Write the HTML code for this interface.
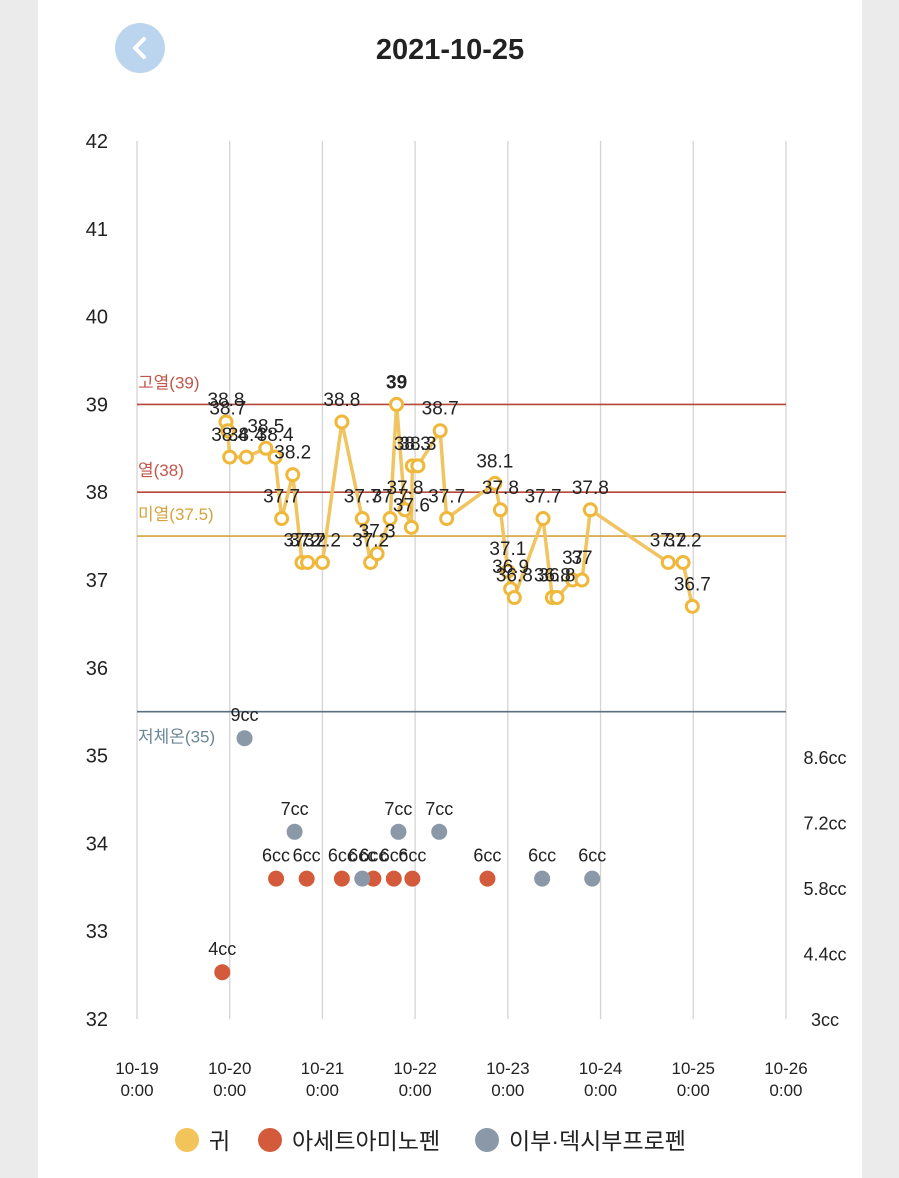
<!DOCTYPE html>
<html><head><meta charset="utf-8">
<style>
html,body{margin:0;padding:0;width:899px;height:1178px;background:#ebebeb;overflow:hidden}
#card{position:absolute;left:38px;top:0;width:824px;height:1178px;background:#fff}
svg{position:absolute;left:0;top:0}
text{font-family:"Liberation Sans","Noto Sans CJK KR",sans-serif}
</style></head>
<body>
<div id="card"></div>
<svg id="chart" width="899" height="1178">
  <circle cx="140" cy="48" r="25" fill="#bcd5ee"/>
  <polyline points="144,39 135,48 144,57" fill="none" stroke="#fff" stroke-width="4" stroke-linecap="round" stroke-linejoin="round"/>
  <text x="450" y="59" text-anchor="middle" font-size="29" font-weight="bold" fill="#222">2021-10-25</text>
</svg>
<script>
const dayLabels=["10-19","10-20","10-21","10-22","10-23","10-24","10-25","10-26"];
const tempTicks=[32,33,34,35,36,37,38,39,40,41,42];
const ccTicks=[3,4.4,5.8,7.2,8.6];
const tempTimes=[0.96,0.98,1.00,1.18,1.39,1.49,1.56,1.68,1.78,1.84,2.00,2.21,2.43,2.52,2.59,2.73,2.80,2.89,2.96,2.97,3.03,3.27,3.34,3.86,3.92,4.00,4.03,4.07,4.38,4.48,4.53,4.70,4.80,4.89,5.73,5.89,5.99];
const tempValues=[38.8,38.7,38.4,38.4,38.5,38.4,37.7,38.2,37.2,37.2,37.2,38.8,37.7,37.2,37.3,37.7,39,37.8,37.6,38.3,38.3,38.7,37.7,38.1,37.8,37.1,36.9,36.8,37.7,36.8,36.8,37,37,37.8,37.2,37.2,36.7];
const acetTimes=[0.92,1.50,1.83,2.21,2.55,2.77,2.97,3.78];
const acetCC=[4,6,6,6,6,6,6,6];
const ibuTimes=[1.16,1.70,2.43,2.82,3.26,4.37,4.91];
const ibuCC=[9,7,6,7,7,6,6];
const refValues=[39,38,37.5,35.5];
const refNames=["고열(39)","열(38)","미열(37.5)","저체온(35)"];

const NS="http://www.w3.org/2000/svg";
const svg=document.getElementById('chart');
const X=t=>137+t*92.71;
const Y=v=>141+(42-v)*87.8;
const YC=c=>1019-(c-3)*46.8;
function mk(tag,attrs,parent){const e=document.createElementNS(NS,tag);for(const k in attrs)e.setAttribute(k,attrs[k]);(parent||svg).appendChild(e);return e;}
function txt(x,y,s,attrs){const e=mk('text',Object.assign({x:x,y:y},attrs||{}));e.textContent=s;return e;}

dayLabels.forEach((d,i)=>{
  const g=mk('line',{x1:X(i),x2:X(i),y1:141,y2:1019,stroke:'#d4d4d4','stroke-width':1.3});
  
  
  const a=txt(X(i),1074,d,{'text-anchor':'middle','font-size':17,fill:'#222'});
  
  
  const b=txt(X(i),1096,'0:00',{'text-anchor':'middle','font-size':17,fill:'#222'});
  
  
});
tempTicks.forEach(v=>{
  const t=txt(108,Y(v)+7,String(v),{'text-anchor':'end','font-size':20,fill:'#222'});
  
  
});
ccTicks.forEach(c=>{
  const t=txt(825,YC(c)+7,c+'cc',{'text-anchor':'middle','font-size':18,fill:'#222'});
  
  
});
const refColors=['#b5473a','#b5473a','#d4a33c','#5a6f80'];
const refText=['#c0574a','#c0574a','#d4a33c','#6b8797'];
refValues.forEach((v,i)=>{
  const l=mk('line',{x1:137,x2:786,y1:Y(v),y2:Y(v),stroke:refColors[i],'stroke-width':1.6});
  
  
  const dy=i===3?31:-16;
  const t=txt(138,Y(v)+dy,refNames[i],{'font-size':17,fill:refText[i]});
  
  
});
const pl=mk('polyline',{points:tempTimes.map((t,i)=>X(t)+','+Y(tempValues[i])).join(' '),fill:'none',stroke:'#f0c461','stroke-width':3.5,'stroke-linejoin':'round'});


tempTimes.forEach((t,i)=>{
  const c=mk('circle',{cx:X(t),cy:Y(tempValues[i]),r:6,fill:'#fff',stroke:'#f0b83a','stroke-width':3});
  
  
});
tempTimes.forEach((t,i)=>{
  const v=tempValues[i];
  const l=txt(X(t),Y(v)-16,String(v),{'text-anchor':'middle','font-size':19,fill:'#222','font-weight':v===39?'bold':'normal'});
  
  
});
acetTimes.forEach((t,i)=>{
  const c=mk('circle',{cx:X(t),cy:YC(acetCC[i]),r:8,fill:'#d35a3a'});
  
  
  const l=txt(X(t),YC(acetCC[i])-17,acetCC[i]+'cc',{'text-anchor':'middle','font-size':18,fill:'#222'});
  
  
});
ibuTimes.forEach((t,i)=>{
  const c=mk('circle',{cx:X(t),cy:YC(ibuCC[i]),r:8,fill:'#8a98a8'});
  
  
  const l=txt(X(t),YC(ibuCC[i])-17,ibuCC[i]+'cc',{'text-anchor':'middle','font-size':18,fill:'#222'});
  
  
});
const legend=[[187,'#f2c45a','귀'],[270,'#d35a3a','아세트아미노펜'],[487,'#8a98a8','이부·덱시부프로펜']];
legend.forEach(([x,col,name])=>{
  const c=mk('circle',{cx:x,cy:1140,r:12,fill:col});
  
  
  const t=txt(x+22,1149,name,{'font-size':23,fill:'#222'});
  
  
});
</script>
</body></html>
